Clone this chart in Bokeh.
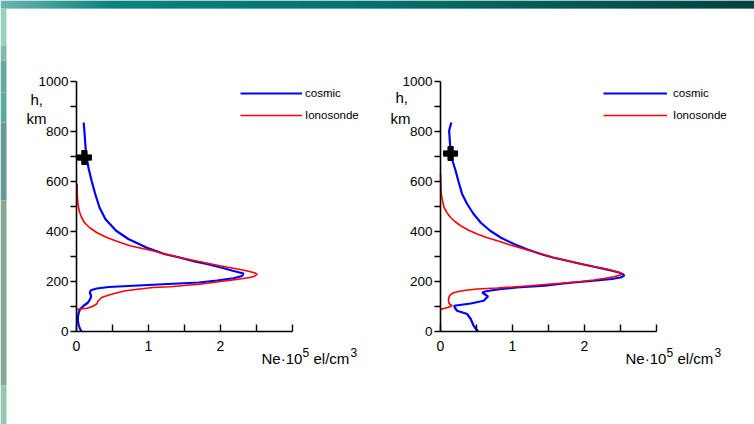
from bokeh.plotting import figure
from bokeh.models import Range1d, FixedTicker, Legend, LegendItem, Label, LinearAxis
from bokeh.embed import file_html
from bokeh.resources import INLINE

# ---------------- data ----------------
left_cosmic_h = [836, 800, 760, 720, 696, 650, 603, 550, 496, 450, 403, 370, 336, 310, 296, 280,
                 270, 255, 243, 232, 222, 213, 204, 196, 189, 183, 178, 172, 165, 156, 145, 136,
                 125, 116, 103, 90, 75, 57, 40, 27, 10, 0]
left_cosmic_ne = [0.10, 0.11, 0.12, 0.13, 0.14, 0.17, 0.21, 0.26, 0.32, 0.40, 0.55, 0.72, 0.97, 1.22,
                  1.43, 1.64, 1.81, 2.02, 2.17, 2.32, 2.30, 2.18, 1.95, 1.70, 1.20, 0.79, 0.45, 0.28,
                  0.20, 0.185, 0.20, 0.20, 0.18, 0.16, 0.10, 0.05, 0.03, 0.02, 0.02, 0.03, 0.05, 0.07]

left_iono_h = [590, 550, 510, 480, 456, 436, 416, 396, 376, 360, 343, 323, 305, 290, 276, 263, 252,
               243, 235, 229, 222, 216, 208, 203, 196, 189, 185, 179, 176, 170, 163, 156, 146, 136,
               122, 110, 100, 93, 90, 88]
left_iono_ne = [0.01, 0.01, 0.02, 0.04, 0.07, 0.11, 0.18, 0.28, 0.42, 0.57, 0.74, 1.06, 1.30, 1.53,
                1.77, 1.99, 2.20, 2.36, 2.47, 2.51, 2.48, 2.41, 2.22, 2.08, 1.90, 1.71, 1.53, 1.30,
                1.06, 0.88, 0.68, 0.58, 0.45, 0.35, 0.30, 0.28, 0.22, 0.15, 0.05, 0.0]

right_cosmic_h = [836, 803, 760, 723, 680, 643, 600, 550, 510, 470, 435, 403, 375, 350, 330, 310,
                  296, 283, 270, 256, 245, 236, 228, 223, 216, 210, 203, 196, 190, 183, 176, 170,
                  165, 160, 156, 148, 140, 132, 123, 112, 103, 95, 83, 70, 50, 23, 0]
right_cosmic_ne = [0.15, 0.12, 0.13, 0.14, 0.17, 0.21, 0.25, 0.30, 0.37, 0.46, 0.56, 0.69, 0.84,
                   1.02, 1.19, 1.39, 1.56, 1.76, 1.96, 2.18, 2.35, 2.48, 2.54, 2.55, 2.50, 2.38,
                   2.13, 1.85, 1.65, 1.45, 1.06, 0.85, 0.72, 0.62, 0.58, 0.62, 0.66, 0.63, 0.60,
                   0.42, 0.19, 0.20, 0.23, 0.37, 0.42, 0.46, 0.52]

right_iono_h = [630, 590, 550, 520, 496, 475, 456, 440, 423, 405, 390, 375, 363, 346, 330, 313, 296,
                283, 270, 260, 250, 241, 233, 226, 219, 212, 206, 200, 193, 188, 183, 178, 174, 170,
                165, 160, 156, 148, 140, 123, 112, 103, 96, 90, 86]
right_iono_ne = [0.0, 0.005, 0.01, 0.03, 0.05, 0.09, 0.14, 0.20, 0.28, 0.39, 0.51, 0.65, 0.79, 0.97,
                 1.16, 1.37, 1.57, 1.76, 1.94, 2.12, 2.31, 2.43, 2.51, 2.50, 2.41, 2.27, 2.13, 1.95,
                 1.67, 1.45, 1.25, 1.00, 0.79, 0.51, 0.35, 0.25, 0.19, 0.14, 0.12, 0.11, 0.12, 0.16,
                 0.10, 0.02, 0.0]

left_star = (0.11, 696)
right_star = (0.14, 712)

y_ticks = [0, 200, 400, 600, 800, 1000]
y_minor = [100, 300, 500, 700, 900]
x_ticks = [0, 1, 2]
x_minor = [0.5, 1.5, 2.5, 3]
series_names = ["cosmic", "Ionosonde"]
y_title = ["h,", "km"]
x_title_parts = ["Ne·10", "5", "el/cm", "3"]

# ---------------- geometry / style ----------------
W, H = 754, 424
PX_NE = 72.0          # pixels per 1e5 el/cm3
PX_KM = 0.25          # pixels per km
AXIS_X = {"L": 76, "R": 440}   # pixel column of Ne = 0
AXIS_Y = 331                   # pixel row of h = 0
FONT = "Liberation Sans"

p = figure(width=W, height=H, x_range=Range1d(0, W), y_range=Range1d(H, 0),
           x_axis_type=None, y_axis_type=None, min_border=0,
           output_backend="svg", toolbar_location=None)
p.outline_line_color = None
p.grid.visible = False
p.background_fill_color = "white"
p.border_fill_color = "white"

p.extra_y_ranges = {"h": Range1d((AXIS_Y - H) / PX_KM, AXIS_Y / PX_KM)}
p.extra_x_ranges = {
    "L": Range1d(-AXIS_X["L"] / PX_NE, (W - AXIS_X["L"]) / PX_NE),
    "R": Range1d(-AXIS_X["R"] / PX_NE, (W - AXIS_X["R"]) / PX_NE),
}

# ---------------- decorative slide frame ----------------
stops = [(0, (110, 180, 176)), (110, (10, 132, 127)), (380, (5, 112, 108)), (754, (2, 66, 66))]
lefts, rights, cols = [], [], []
for x0 in range(0, W, 2):
    for (a, ca), (b, cb) in zip(stops[:-1], stops[1:]):
        if a <= x0 <= b:
            t = (x0 - a) / (b - a)
            c = tuple(int(ca[i] + (cb[i] - ca[i]) * t) for i in range(3))
            break
    lefts.append(x0)
    rights.append(x0 + 3)
    cols.append("#%02x%02x%02x" % c)
p.quad(left=lefts, right=rights, bottom=8, top=0, fill_color=cols, line_color=None)

seg_y0 = [8, 45, 60, 92, 122, 200, 385]
seg_y1 = [45, 60, 92, 122, 200, 385, 424]
seg_c = ["#96d2bd", "#7fb9a9", "#6aa79e", "#5aaaa2", "#619b93", "#86a796", "#97c6b1"]
p.quad(left=0, right=6, top=seg_y0, bottom=seg_y1, fill_color=seg_c, line_color=None)


def text(x, y, s, size, baseline="middle"):
    p.add_layout(Label(x=x, y=y, text=s, text_font=FONT, text_font_size=size,
                       text_color="black", text_baseline=baseline, text_align="left"))


def panel(key, cos_ne, cos_h, ion_ne, ion_h, star, legend_x, glyph_w, standoff,
          h_pos, km_pos, ne_x):
    xa = LinearAxis(x_range_name=key, y_range_name="h", fixed_location=0, bounds=(0, 3),
                    ticker=FixedTicker(ticks=x_ticks, minor_ticks=x_minor))
    xa.axis_line_width = 1.6
    xa.major_tick_line_width = 1.4
    xa.minor_tick_line_width = 1.4
    xa.major_tick_in = 7
    xa.major_tick_out = 0
    xa.minor_tick_in = 7
    xa.minor_tick_out = 0
    xa.major_label_standoff = 9
    xa.major_label_text_font = FONT
    xa.major_label_text_font_size = "14px"
    xa.major_label_text_color = "black"
    p.add_layout(xa, "below")

    ya = LinearAxis(x_range_name=key, y_range_name="h", fixed_location=0, bounds=(0, 1000),
                    ticker=FixedTicker(ticks=y_ticks, minor_ticks=y_minor))
    ya.axis_line_width = 1.6
    ya.major_tick_line_width = 1.4
    ya.minor_tick_line_width = 1.4
    ya.major_tick_in = 0
    ya.major_tick_out = 6
    ya.minor_tick_in = 0
    ya.minor_tick_out = 6
    ya.major_label_standoff = 2
    ya.major_label_text_font = FONT
    ya.major_label_text_font_size = "13.5px"
    ya.major_label_text_color = "black"
    p.add_layout(ya, "left")

    r1 = p.line(cos_ne, cos_h, line_color="#0000ff", line_width=2.2,
                x_range_name=key, y_range_name="h")
    r2 = p.line(ion_ne, ion_h, line_color="#ff0000", line_width=1.6,
                x_range_name=key, y_range_name="h")
    p.scatter([star[0]], [star[1]], marker="plus", size=14, color="black",
              x_range_name=key, y_range_name="h")

    legend = Legend(items=[LegendItem(label=series_names[0], renderers=[r1]),
                           LegendItem(label=series_names[1], renderers=[r2])],
                    location=(legend_x, H - 125), glyph_width=glyph_w, glyph_height=20,
                    spacing=2, padding=0, margin=0, label_standoff=standoff,
                    label_text_font=FONT, label_text_font_size="11.5px",
                    label_text_color="black",
                    border_line_color=None, background_fill_alpha=0)
    p.add_layout(legend)

    text(h_pos[0], h_pos[1], y_title[0], "15px")
    text(km_pos[0], km_pos[1], y_title[1], "15px")
    # axis title with raised exponents
    text(ne_x, 358, x_title_parts[0], "15px", "alphabetic")
    text(ne_x + 41, 352, x_title_parts[1], "12px", "alphabetic")
    text(ne_x + 52, 358, x_title_parts[2], "15px", "alphabetic")
    text(ne_x + 89, 352, x_title_parts[3], "12px", "alphabetic")


panel("L", left_cosmic_ne, left_cosmic_h, left_iono_ne, left_iono_h, left_star,
      240, 62, 3, (30, 99), (26, 118), 261)
panel("R", right_cosmic_ne, right_cosmic_h, right_iono_ne, right_iono_h, right_star,
      603, 64, 6, (395, 97), (390, 118), 625)

open("out.html", "w").write(file_html(p, INLINE))
